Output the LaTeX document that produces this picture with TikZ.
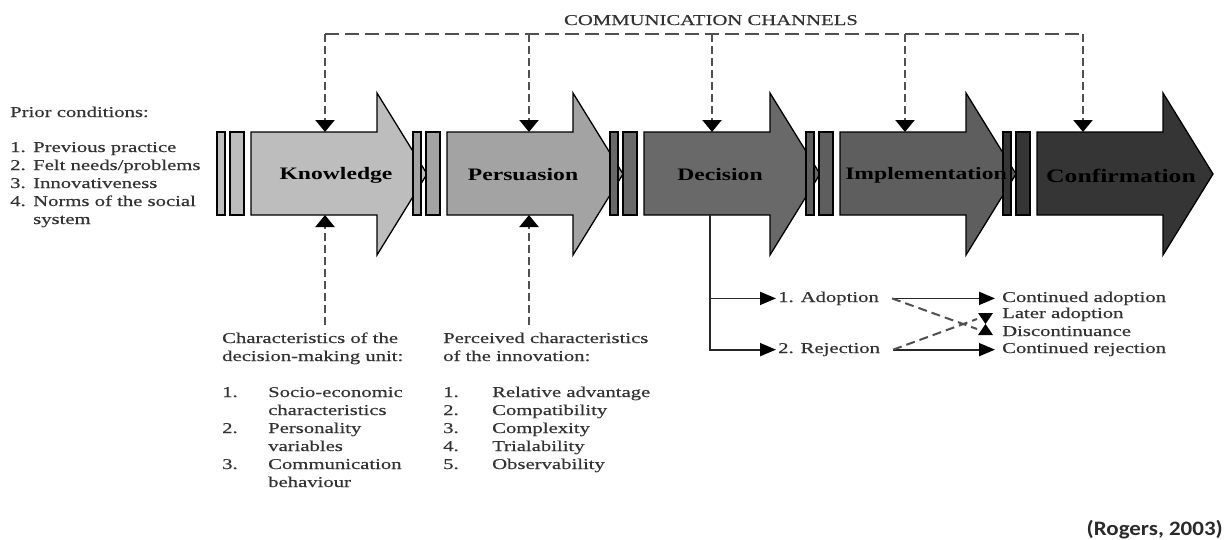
\documentclass[tikz,border=0pt]{standalone}
\usepackage{fontspec}
\setmainfont{Liberation Serif}[FakeStretch=1.38, FakeBold=0.4]
\newfontfamily\stagefont{Liberation Serif}[FakeStretch=1.35]
\newfontfamily\citefont{Carlito}[FakeStretch=1.12]
\usetikzlibrary{arrows.meta}

\definecolor{kncol}{HTML}{BDBDBD}
\definecolor{pecol}{HTML}{A3A3A3}
\definecolor{decol}{HTML}{696969}
\definecolor{imcol}{HTML}{5E5E5E}
\definecolor{cocol}{HTML}{353535}
\definecolor{dashgrey}{HTML}{505050}
\definecolor{citegrey}{HTML}{2A2A2A}

\tikzset{
  stageline/.style={draw=black, line width=1.3pt},
  stagelabel/.style={font=\stagefont\bfseries\fontsize{17.5}{20}\selectfont, inner sep=0pt, text=black},
  txt/.style={font=\fontsize{15}{18}\selectfont, inner sep=0pt, text=black!80},
  chanh/.style={draw=dashgrey, line width=2.2pt, dash pattern=on 14pt off 6pt},
  chanv/.style={draw=dashgrey, line width=2.2pt, dash pattern=on 8pt off 4pt},
  crossdash/.style={draw=dashgrey, line width=2pt, dash pattern=on 9pt off 5pt},
  link/.style={draw=black!85, line width=1.8pt},
  vtip/.style={-{Triangle[length=12pt,width=19pt,color=black]}},
  htip/.style={-{Triangle[length=16pt,width=13pt,color=black]}}
}

% one stage of the process: two thin bars, then the block arrow
% #1 = left edge of the arrow body, #2 = fill colour
\newcommand{\stagebox}[2]{%
  \draw[stageline, fill=#2] (#1-34,132) rectangle (#1-26,215);
  \draw[stageline, fill=#2] (#1-21,132) rectangle (#1-7,215);
  \draw[stageline, fill=#2] (#1,132) -- (#1+126,132) -- (#1+126,93)
    -- (#1+176,174) -- (#1+126,255) -- (#1+126,215) -- (#1,215) -- cycle;
}

\begin{document}
\begin{tikzpicture}[x=1pt, y=-1pt]
\fill[white] (0,0) rectangle (1228,539);
\useasboundingbox (0,0) rectangle (1228,539);

% the five stages
\stagebox{251}{kncol}
\stagebox{447}{pecol}
\stagebox{644}{decol}
\stagebox{840}{imcol}
\stagebox{1037}{cocol}

\node[stagelabel] (kn) at (336,175) {Knowledge};
\node[stagelabel] (pe) at (523,175) {Persuasion};
\node[stagelabel] (de) at (720,175) {Decision};
\node[stagelabel] (im) at (926,175) {Implementation};
\node[stagelabel, font=\stagefont\bfseries\fontsize{19}{22}\selectfont] (co) at (1121,176) {Confirmation};

% communication channels along the top
\node[txt, anchor=base] (cc) at (711,25) {COMMUNICATION CHANNELS};
\coordinate (cc-k) at (325,34);  \coordinate (kn-in) at (325,132);
\coordinate (cc-p) at (529,34);  \coordinate (pe-in) at (529,132);
\coordinate (cc-d) at (712,34);  \coordinate (de-in) at (712,132);
\coordinate (cc-i) at (905,34);  \coordinate (im-in) at (905,132);
\coordinate (cc-c) at (1083,34); \coordinate (co-in) at (1083,132);

\draw[chanh] (cc-k) -- (cc-c);
\draw[chanv, vtip] (cc-k) -- (kn-in);
\draw[chanv, vtip] (cc-p) -- (pe-in);
\draw[chanv, vtip] (cc-d) -- (de-in);
\draw[chanv, vtip] (cc-i) -- (im-in);
\draw[chanv, vtip] (cc-c) -- (co-in);

% prior conditions
\node[txt, anchor=base west] (prior) at (10,117) {Prior conditions:};
\node[txt, anchor=base west] (priorlist) at (10,152) {%
  \begin{tabular}[t]{@{}p{23pt}@{}l@{}}
  1. & Previous practice\\
  2. & Felt needs/problems\\
  3. & Innovativeness\\
  4. & Norms of the social\\
     & system
  \end{tabular}};

% characteristics of the decision-making unit
\node[txt, anchor=base west] (dmu) at (222,343) {%
  \begin{tabular}[t]{@{}l@{}}
  Characteristics of the\\
  decision-making unit:
  \end{tabular}};
\node[txt, anchor=base west] (dmulist) at (222,397) {%
  \begin{tabular}[t]{@{}p{46pt}@{}l@{}}
  1. & Socio-economic\\
     & characteristics\\
  2. & Personality\\
     & variables\\
  3. & Communication\\
     & behaviour
  \end{tabular}};

% perceived characteristics of the innovation
\node[txt, anchor=base west] (inn) at (443,343) {%
  \begin{tabular}[t]{@{}l@{}}
  Perceived characteristics\\
  of the innovation:
  \end{tabular}};
\node[txt, anchor=base west] (innlist) at (443,397) {%
  \begin{tabular}[t]{@{}p{49pt}@{}l@{}}
  1. & Relative advantage\\
  2. & Compatibility\\
  3. & Complexity\\
  4. & Trialability\\
  5. & Observability
  \end{tabular}};

\coordinate (kn-out) at (325,215); \coordinate (dmu-src) at (325,325);
\coordinate (pe-out) at (529,215); \coordinate (inn-src) at (529,325);
\draw[chanv, vtip] (dmu-src) -- (kn-out);
\draw[chanv, vtip] (inn-src) -- (pe-out);

% outcomes of the decision
\node[txt, anchor=base west] (adopt)  at (778,302) {1. Adoption};
\node[txt, anchor=base west] (reject) at (778,353) {2. Rejection};
\node[txt, anchor=base west] (contad) at (1002,302) {Continued adoption};
\node[txt, anchor=base west] (later)  at (1002,318) {Later adoption};
\node[txt, anchor=base west] (disc)   at (1002,336) {Discontinuance};
\node[txt, anchor=base west] (contrj) at (1002,353) {Continued rejection};

\coordinate (de-out) at (710,215);
\draw[link, htip, shorten >=2pt] (de-out) |- (adopt.west);
\draw[link, htip, shorten >=2pt] (de-out) |- (reject.west);
\draw[link, htip] ([xshift=13pt]adopt.east) -- ([xshift=-7pt]adopt.east -| contad.west);
\draw[link, htip] ([xshift=13pt]reject.east) -- ([xshift=-7pt]reject.east -| contrj.west);

% later adoption / discontinuance switch
\coordinate (hg) at (985.5,324);
\coordinate (hg-sw) at (977,329);
\coordinate (hg-nw) at (977,319);
\draw[crossdash] ([xshift=13pt]adopt.east) -- (hg-sw);
\draw[crossdash] ([xshift=13pt]reject.east) -- (hg-nw);
\fill[black] (hg) -- (978,313) -- (993,313) -- cycle;
\fill[black] (hg) -- (978,335) -- (993,335) -- cycle;

% source
\node[anchor=base east, inner sep=0pt, font=\citefont\bfseries\fontsize{20.5}{24}\selectfont, text=citegrey] (src) at (1223,535) {(Rogers, 2003)};
\end{tikzpicture}
\end{document}
